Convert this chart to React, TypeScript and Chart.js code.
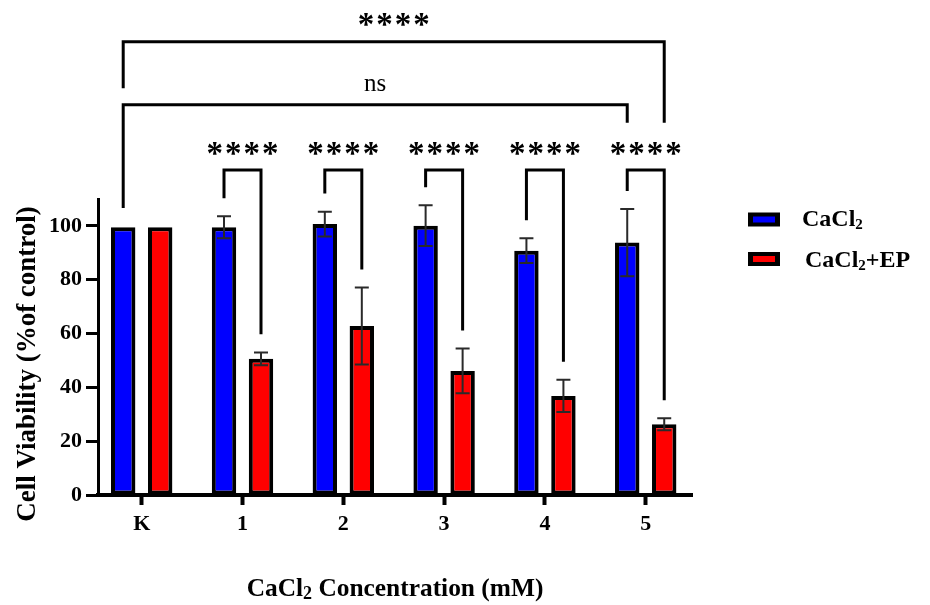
import React, { useEffect, useRef } from "react";
import { Chart, registerables } from "chart.js";
Chart.register(...registerables);

// ---------- data ----------
const categories = ["K", "1", "2", "3", "4", "5"];
const cacl2Values = [99.5, 99.5, 100.7, 100.1, 90.8, 93.8];
const cacl2Errors = [0, 4.1, 4.6, 7.6, 4.6, 12.5];
const cacl2EpValues = [99.5, 50.6, 62.8, 46.1, 36.8, 26.3];
const cacl2EpErrors = [0, 2.4, 14.3, 8.3, 6.0, 2.2];
const yTicks = [0, 20, 40, 60, 80, 100];

// significance annotations (value units)
const pairCategories = [1, 2, 3, 4, 5];
const pairLabel = "****";
const pairLevel = 120.8;
const pairLabelLevel = 128.8;
const pairGap = 6.7;
const longBrackets = [
  { from: [0, 0], to: [5, 0], level: 145, leftEnd: 106.7, rightEnd: 138.3, label: "ns", labelLevel: 152.4 },
  { from: [0, 0], to: [5, 1], level: 168.4, leftEnd: 151.2, rightEnd: 138.3, label: "****", labelLevel: 176.6 },
];

const SERIF = '"Liberation Serif", "Times New Roman", serif';
const BLUE = "#0000FF";
const RED = "#FF0000";

type Part = [string, boolean];

function drawParts(ctx: CanvasRenderingContext2D, parts: Part[], x: number, y: number, align: "left" | "center", size: number, subSize: number, subDrop: number) {
  ctx.save();
  ctx.textAlign = "left";
  ctx.textBaseline = "alphabetic";
  const widths = parts.map(([t, sub]) => {
    ctx.font = `bold ${sub ? subSize : size}px ${SERIF}`;
    return ctx.measureText(t).width;
  });
  const total = widths.reduce((a, b) => a + b, 0);
  let cx = align === "center" ? x - total / 2 : x;
  parts.forEach(([t, sub], i) => {
    ctx.font = `bold ${sub ? subSize : size}px ${SERIF}`;
    ctx.fillText(t, cx, sub ? y + subDrop : y);
    cx += widths[i];
  });
  ctx.restore();
}

function drawStars(ctx: CanvasRenderingContext2D, text: string, cx: number, cy: number) {
  ctx.save();
  ctx.font = `bold 33px ${SERIF}`;
  ctx.textAlign = "center";
  ctx.textBaseline = "alphabetic";
  const m = ctx.measureText("*");
  const dy = (m.actualBoundingBoxAscent - m.actualBoundingBoxDescent) / 2;
  const pitch = 18.5;
  const n = text.length;
  for (let k = 0; k < n; k++) {
    ctx.fillText("*", cx + (k - (n - 1) / 2) * pitch, cy + dy);
  }
  ctx.restore();
}

const errorBarPlugin = {
  id: "errorBars",
  afterDatasetsDraw(chart: any) {
    const ctx = chart.ctx;
    const y = chart.scales.y;
    const errs = [cacl2Errors, cacl2EpErrors];
    const vals = [cacl2Values, cacl2EpValues];
    ctx.save();
    ctx.strokeStyle = "#2a2a2a";
    ctx.lineWidth = 2;
    for (let d = 0; d < 2; d++) {
      const meta = chart.getDatasetMeta(d);
      meta.data.forEach((el: any, j: number) => {
        const e = errs[d][j];
        if (!e) return;
        const top = y.getPixelForValue(vals[d][j] + e);
        const bot = y.getPixelForValue(vals[d][j] - e);
        ctx.beginPath();
        ctx.moveTo(el.x, top);
        ctx.lineTo(el.x, bot);
        ctx.moveTo(el.x - 7, top);
        ctx.lineTo(el.x + 7, top);
        ctx.moveTo(el.x - 7, bot);
        ctx.lineTo(el.x + 7, bot);
        ctx.stroke();
      });
    }
    ctx.restore();
  },
};

const annotationPlugin = {
  id: "annotations",
  afterDraw(chart: any) {
    const ctx = chart.ctx;
    const y = chart.scales.y;
    const vals = [cacl2Values, cacl2EpValues];
    const errs = [cacl2Errors, cacl2EpErrors];
    const px = (c: number, s: number) => chart.getDatasetMeta(s).data[c].x;
    const top = (c: number, s: number) => vals[s][c] + errs[s][c];

    ctx.save();
    ctx.strokeStyle = "#000";
    ctx.fillStyle = "#000";
    ctx.lineWidth = 3;
    ctx.lineJoin = "miter";
    ctx.lineCap = "butt";

    // pair brackets
    pairCategories.forEach((c) => {
      const x1 = px(c, 0);
      const x2 = px(c, 1);
      ctx.beginPath();
      ctx.moveTo(x1, y.getPixelForValue(top(c, 0) + pairGap));
      ctx.lineTo(x1, y.getPixelForValue(pairLevel));
      ctx.lineTo(x2, y.getPixelForValue(pairLevel));
      ctx.lineTo(x2, y.getPixelForValue(top(c, 1) + pairGap));
      ctx.stroke();
      drawStars(ctx, pairLabel, (x1 + x2) / 2, y.getPixelForValue(pairLabelLevel));
    });

    // long brackets
    longBrackets.forEach((b) => {
      const x1 = px(b.from[0], b.from[1]);
      const x2 = px(b.to[0], b.to[1]);
      ctx.beginPath();
      ctx.moveTo(x1, y.getPixelForValue(b.leftEnd));
      ctx.lineTo(x1, y.getPixelForValue(b.level));
      ctx.lineTo(x2, y.getPixelForValue(b.level));
      ctx.lineTo(x2, y.getPixelForValue(b.rightEnd));
      ctx.stroke();
      const cx = (x1 + x2) / 2;
      const cy = y.getPixelForValue(b.labelLevel);
      if (b.label.startsWith("*")) {
        drawStars(ctx, b.label, cx, cy);
      } else {
        ctx.font = `25px ${SERIF}`;
        ctx.textAlign = "center";
        ctx.textBaseline = "middle";
        ctx.fillText(b.label, cx, cy);
      }
    });

    // y title
    ctx.save();
    ctx.translate(35, 364);
    ctx.rotate(-Math.PI / 2);
    ctx.font = `bold 27px ${SERIF}`;
    ctx.textAlign = "center";
    ctx.textBaseline = "alphabetic";
    ctx.fillText("Cell Viability (%of control)", 0, 0);
    ctx.restore();

    // x title
    drawParts(ctx, [["CaCl", false], ["2", true], [" Concentration (mM)", false]], 395, 596, "center", 25.4, 18, 3);

    // legend
    const legendItems: { color: string; parts: Part[]; x: number; boxY: number; base: number }[] = [
      { color: BLUE, parts: [["CaCl", false], ["2", true]], x: 802, boxY: 212.5, base: 226 },
      { color: RED, parts: [["CaCl", false], ["2", true], ["+EP", false]], x: 805, boxY: 252, base: 267 },
    ];
    legendItems.forEach((it) => {
      ctx.fillStyle = "#000";
      ctx.fillRect(748, it.boxY, 32, 14);
      ctx.fillStyle = it.color;
      ctx.fillRect(753, it.boxY + 4, 22, 6);
      ctx.fillStyle = "#000";
      drawParts(ctx, it.parts, it.x, it.base, "left", 24, 15, 3);
    });
    ctx.restore();
  },
};

export default function App() {
  const ref = useRef<HTMLCanvasElement | null>(null);
  useEffect(() => {
    if (!ref.current) return;
    const tickFont = { family: SERIF, size: 22, weight: "bold" as const };
    const chart = new Chart(ref.current, {
      type: "bar",
      data: {
        datasets: [
          {
            label: "CaCl2",
            data: cacl2Values.map((v, i) => ({ x: i, y: v })),
            backgroundColor: BLUE,
            borderColor: "#000",
            borderWidth: 4,
            borderSkipped: false,
            categoryPercentage: 0.734,
            barPercentage: 0.66,
          },
          {
            label: "CaCl2+EP",
            data: cacl2EpValues.map((v, i) => ({ x: i, y: v })),
            backgroundColor: RED,
            borderColor: "#000",
            borderWidth: 4,
            borderSkipped: false,
            categoryPercentage: 0.734,
            barPercentage: 0.66,
          },
        ],
      },
      options: {
        animation: false,
        responsive: true,
        maintainAspectRatio: false,
        layout: { padding: { top: 199, right: 238, left: 0, bottom: 0 } },
        plugins: { legend: { display: false }, tooltip: { enabled: false } },
        scales: {
          x: {
            type: "linear",
            min: -0.4335,
            max: 5.459,
            offset: false,
            afterBuildTicks: (s: any) => {
              s.ticks = categories.map((_, i) => ({ value: i }));
            },
            afterFit: (s: any) => {
              s.height = 110;
            },
            ticks: {
              callback: (v: any) => categories[Math.round(Number(v))],
              font: tickFont,
              color: "#000",
              padding: 6,
              autoSkip: false,
              maxRotation: 0,
            },
            grid: { display: true, offset: false, drawOnChartArea: false, drawTicks: true, tickLength: 10, tickWidth: 4, tickColor: "#000" },
            border: { display: true, color: "#000", width: 4 },
          },
          y: {
            min: 0,
            max: 110,
            afterBuildTicks: (s: any) => {
              s.ticks = yTicks.map((v) => ({ value: v }));
            },
            afterFit: (s: any) => {
              s.width = 98;
            },
            ticks: { font: tickFont, color: "#000", padding: 4 },
            grid: { display: true, drawOnChartArea: false, drawTicks: true, tickLength: 12, tickWidth: 3, tickColor: "#000" },
            border: { display: true, color: "#000", width: 3 },
          },
        },
      },
      plugins: [errorBarPlugin, annotationPlugin],
    } as any);
    return () => chart.destroy();
  }, []);
  return (
    <div style={{ position: "fixed", left: 0, top: 0, width: 930, height: 605, background: "#fff" }}>
      <canvas ref={ref} />
    </div>
  );
}
